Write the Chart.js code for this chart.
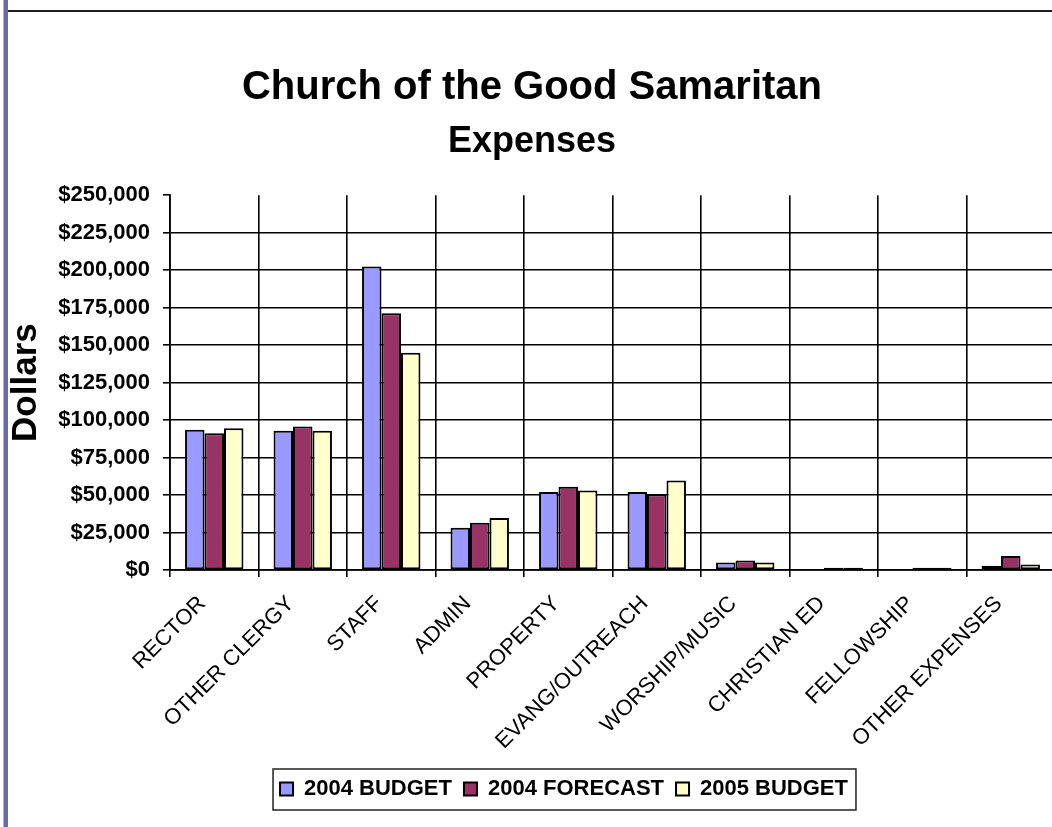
<!DOCTYPE html>
<html>
<head>
<meta charset="utf-8">
<title>Church of the Good Samaritan - Expenses</title>
<script src="https://cdn.jsdelivr.net/npm/chart.js"></script>
<style>
    html, body {
        margin: 0;
        padding: 0;
        background: #fff;
        overflow: hidden;
    }
    #wrap {
        position: relative;
        width: 1052px;
        height: 827px;
        overflow: hidden;
    }
    #chart {
        position: absolute;
        left: 0;
        top: 0;
    }
    .topline {
        position: absolute;
        left: 3px;
        top: 10px;
        width: 1049px;
        height: 2px;
        background: #1e1e1e;
    }
    .sidebar {
        position: absolute;
        left: 3px;
        top: 0;
        width: 4px;
        height: 827px;
        background: #6a6aa6;
        border-left: 1px solid #aeaed0;
    }
</style>
</head>
<body>
<div id="wrap">
    <canvas id="chart" width="1062" height="827"></canvas>
    <div class="topline"></div>
    <div class="sidebar"></div>
</div>
<script>
// data
const categories = ['RECTOR', 'OTHER CLERGY', 'STAFF', 'ADMIN', 'PROPERTY',
    'EVANG/OUTREACH', 'WORSHIP/MUSIC', 'CHRISTIAN ED', 'FELLOWSHIP', 'OTHER EXPENSES'];
const seriesNames = ['2004 BUDGET', '2004 FORECAST', '2005 BUDGET'];
const budget2004 = [93500, 92800, 202500, 28200, 52100, 52100, 5000, 0, 0, 2900];
const forecast2004 = [91200, 95700, 171300, 31500, 55500, 50300, 6300, 1500, 1500, 9400];
const budget2005 = [94600, 92800, 144900, 34700, 53000, 59700, 5000, 1500, 1500, 3700];
const yMin = 0;
const yMax = 250000;
const yStep = 25000;

const FONT = "'Liberation Sans', Arial, Helvetica, sans-serif";
const colors = ['#9999FF', '#993366', '#FFFFCC'];

function money(v) {
    return '$' + Number(v).toLocaleString('en-US');
}

// Legend sits a bit right of centre in the original, and has a frame round it
const legendFrame = {
    id: 'legendFrame',
    afterLayout(chart) {
        const lg = chart.legend;
        lg.left += 32;
        lg.right += 32;
    },
    afterDraw(chart) {
        const boxes = chart.legend.legendHitBoxes;
        if (!boxes || !boxes.length) return;
        const left = Math.min(...boxes.map(b => b.left)) - 7;
        const right = Math.max(...boxes.map(b => b.left + b.width)) + 8;
        const top = Math.min(...boxes.map(b => b.top)) - 9;
        const bottom = Math.max(...boxes.map(b => b.top + b.height)) + 10;
        const ctx = chart.ctx;
        ctx.save();
        ctx.strokeStyle = '#222';
        ctx.lineWidth = 1.5;
        ctx.strokeRect(left, top, right - left, bottom - top);
        ctx.restore();
    }
};

const datasets = [budget2004, forecast2004, budget2005].map((vals, i) => ({
    label: seriesNames[i],
    data: vals,
    backgroundColor: colors[i],
    borderColor: '#000',
    borderWidth: 2,
    borderSkipped: false,
    categoryPercentage: 0.66,
    barPercentage: 1.0
}));

new Chart(document.getElementById('chart'), {
    type: 'bar',
    data: {
        labels: categories,
        datasets: datasets
    },
    plugins: [legendFrame],
    options: {
        responsive: false,
        animation: false,
        events: [],
        layout: {
            padding: { left: 9, right: 7, top: 0, bottom: 17 }
        },
        plugins: {
            title: {
                display: true,
                text: 'Church of the Good Samaritan',
                color: '#000',
                font: { family: FONT, size: 40, weight: 'bold', lineHeight: 1.2 },
                padding: { top: 64, bottom: 0 }
            },
            subtitle: {
                display: true,
                text: 'Expenses',
                color: '#000',
                font: { family: FONT, size: 36, weight: 'bold', lineHeight: 1.2 },
                padding: { top: 8, bottom: 32 }
            },
            legend: {
                position: 'bottom',
                labels: {
                    color: '#000',
                    font: { family: FONT, size: 22, weight: 'bold' },
                    boxWidth: 13,
                    boxHeight: 13,
                    padding: 12
                }
            },
            tooltip: { enabled: false }
        },
        scales: {
            x: {
                grid: {
                    color: '#000',
                    lineWidth: 1.6,
                    offset: true,
                    tickLength: 7,
                    tickColor: '#000'
                },
                border: { display: true, color: '#000', width: 1.8 },
                ticks: {
                    color: '#000',
                    font: { family: FONT, size: 22 },
                    minRotation: 45,
                    maxRotation: 45,
                    autoSkip: false,
                    padding: 14,
                    labelOffset: -12
                },
                afterFit(scale) {
                    scale.height = 196;
                }
            },
            y: {
                min: yMin,
                max: yMax,
                grid: {
                    // no gridline along the top edge, only the tick mark
                    color: ctx => (ctx.tick && ctx.tick.value === yMax) ? 'rgba(0,0,0,0)' : '#000',
                    lineWidth: 1.6,
                    tickLength: 7,
                    tickColor: '#000'
                },
                border: { display: true, color: '#000', width: 1.8 },
                ticks: {
                    stepSize: yStep,
                    color: '#000',
                    padding: 13,
                    font: { family: FONT, size: 22, weight: 'bold' },
                    callback: v => money(v)
                },
                title: {
                    display: true,
                    text: 'Dollars',
                    color: '#000',
                    font: { family: FONT, size: 35, weight: 'bold', lineHeight: 1 },
                    padding: 0
                },
                afterFit(scale) {
                    scale.width = 161;
                }
            }
        }
    }
});
</script>
</body>
</html>
